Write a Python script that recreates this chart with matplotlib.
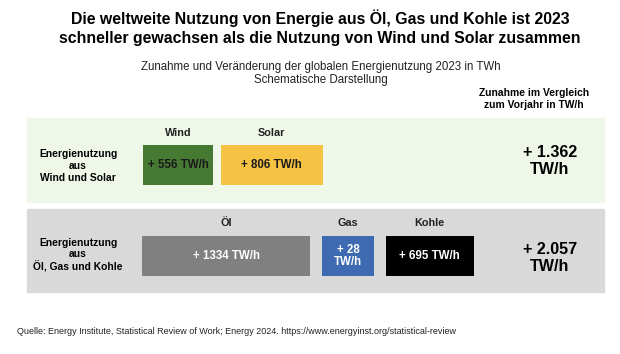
import matplotlib.pyplot as plt
from matplotlib.patches import Rectangle

plt.rcParams['font.family'] = ['Liberation Sans', 'DejaVu Sans']

# data
renew_names = ['Wind', 'Solar']
renew_values = [556, 806]
renew_total = '+ 1.362\nTW/h'
renew_colors = ['#467a32', '#f5c243']
renew_textcolors = ['#1a1a1a', '#1a1a1a']

fossil_names = ['Öl', 'Gas', 'Kohle']
fossil_values = [1334, 28, 695]
fossil_total = '+ 2.057\nTW/h'
fossil_colors = ['#808080', '#3d6ab0', '#000000']
fossil_textcolors = ['white', 'white', 'white']

px_per_twh = 0.126
min_width = 52

fig = plt.figure(figsize=(6.2, 3.54), dpi=100)
ax = fig.add_axes([0, 0, 1, 1])
ax.set_xlim(0, 620)
ax.set_ylim(354, 0)
ax.axis('off')

ax.text(320, 18,
        'Die weltweite Nutzung von Energie aus Öl, Gas und Kohle ist 2023',
        ha='center', va='center', fontsize=11.4, fontweight='bold')
ax.text(320, 39,
        'schneller gewachsen als die Nutzung von Wind und Solar zusammen',
        ha='center', va='center', fontsize=11.4, fontweight='bold')
ax.text(321, 67, 'Zunahme und Veränderung der globalen Energienutzung 2023 in TWh',
        ha='center', va='center', fontsize=8.3, color='#222222')
ax.text(321, 80, 'Schematische Darstellung',
        ha='center', va='center', fontsize=8.3, color='#222222')
ax.text(534, 99, 'Zunahme im Vergleich\nzum Vorjahr in TW/h', ha='center',
        va='center', fontsize=7.4, fontweight='bold', linespacing=1.15)

# panels
ax.add_patch(Rectangle((27, 118), 577, 84, color='#eef7e8', zorder=0))
ax.add_patch(Rectangle((27, 209), 577, 83, color='#d9d9d9', zorder=0))

ax.text(78, 166, 'Energienutzung\naus\nWind und Solar', ha='center',
        va='center', fontsize=7.4, fontweight='bold', linespacing=1.2)
ax.text(78, 255, 'Energienutzung\naus\nÖl, Gas und Kohle', ha='center',
        va='center', fontsize=7.4, fontweight='bold', linespacing=1.2)


def draw_row(names, values, colors, tcolors, x0, gap, yc, ylab):
    widths = [max(v * px_per_twh, min_width) for v in values]
    lefts = []
    x = x0
    for w in widths:
        lefts.append(x)
        x += w + gap
    ax.barh([yc] * len(values), widths, left=lefts, height=40,
            color=colors, edgecolor='none', zorder=2)
    for name, v, w, l, tc in zip(names, values, widths, lefts, tcolors):
        cx = l + w / 2
        ax.text(cx, ylab, name, ha='center', va='center', fontsize=7.8,
                fontweight='bold', color='#222222')
        label = f'+ {v} TW/h' if v * px_per_twh >= min_width else f'+ {v}\nTW/h'
        ax.text(cx, yc, label, ha='center', va='center', fontsize=8.3,
                fontweight='bold', color=tc, zorder=3, linespacing=1.1)


draw_row(renew_names, renew_values, renew_colors, renew_textcolors,
         143, 8, 165, 133)
draw_row(fossil_names, fossil_values, fossil_colors, fossil_textcolors,
         142, 12, 256, 223)

ax.text(550, 161, renew_total, ha='center', va='center', fontsize=11.6,
        fontweight='bold', linespacing=1.2)
ax.text(550, 258, fossil_total, ha='center', va='center', fontsize=11.6,
        fontweight='bold', linespacing=1.2)

ax.text(17, 332, 'Quelle: Energy Institute, Statistical Review of Work; Energy 2024. '
        'https://www.energyinst.org/statistical-review',
        ha='left', va='center', fontsize=6.5, color='#222222')

fig.savefig('out.png', dpi=100)
